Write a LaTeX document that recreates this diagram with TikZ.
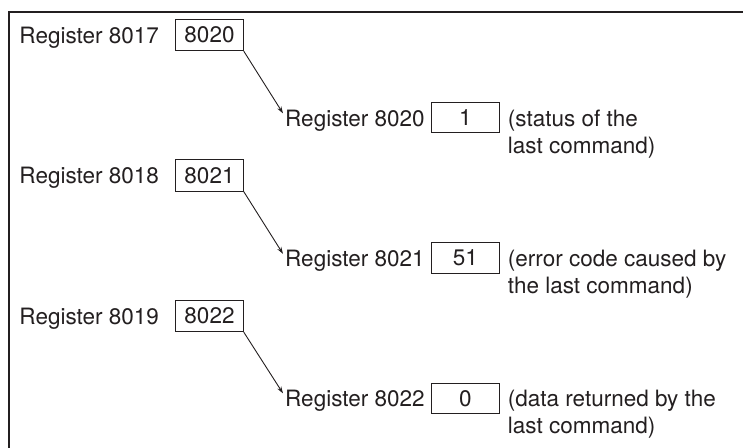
\documentclass[tikz,border=0pt]{standalone}
\usepackage{fontspec}
\setmainfont{TeX Gyre Heros}
\usetikzlibrary{arrows.meta}
\definecolor{ink}{HTML}{231F20}
\begin{document}
\begin{tikzpicture}[x=1pt,y=-1pt,
  every node/.style={font=\fontsize{22.5}{27}\selectfont, text=ink},
  lbl/.style={anchor=base west, inner sep=0pt},
  lbox/.style={draw=ink, line width=1pt, minimum width=67.6pt, minimum height=31.4pt, inner sep=0pt},
  rbox/.style={draw=ink, line width=1pt, minimum width=67.3pt, minimum height=30.4pt, inner sep=0pt},
  cmt/.style={anchor=base west, inner sep=0pt, align=left},
  ptr/.style={draw=ink, line width=0.9pt, -{Stealth[length=7pt,width=4.5pt]}},
  frame/.style={draw=ink, line width=2pt}
]
\useasboundingbox (0,0) rectangle (743,447);
\coordinate (fb) at (8.7,448);
\coordinate (fc) at (8.7,12);
\coordinate (fr) at (744,12);
\draw[frame] (fb) -- (fc) -- (fr);

% Row 1
\node[lbl] (l1) at (19.3,43.3) {Register 8017};
\node[lbox] (b1) at (209.5,35) {8020};
\node[lbl] (r1) at (285,126) {Register 8020};
\node[rbox] (v1) at (465.4,117.5) {1};
\node[cmt] (c1) at (507.7,153) {(status of the\\last command)};
\draw[ptr] (b1.south east) -- ([xshift=-2pt,yshift=-4pt]r1.north west);

% Row 2
\node[lbl] (l2) at (19.3,183.8) {Register 8018};
\node[lbox] (b2) at (209.5,175.5) {8021};
\node[lbl] (r2) at (285,266.5) {Register 8021};
\node[rbox] (v2) at (465.4,258) {51};
\node[cmt] (c2) at (507.7,293.5) {(error code caused by\\the last command)};
\draw[ptr] (b2.south east) -- ([xshift=-2pt,yshift=-4pt]r2.north west);

% Row 3
\node[lbl] (l3) at (19.3,324.3) {Register 8019};
\node[lbox] (b3) at (209.5,316) {8022};
\node[lbl] (r3) at (285,406) {Register 8022};
\node[rbox] (v3) at (465.4,398.3) {0};
\node[cmt] (c3) at (507.7,433) {(data returned by the\\last command)};
\draw[ptr] (b3.south east) -- ([xshift=-2pt,yshift=-4pt]r3.north west);
\end{tikzpicture}
\end{document}
